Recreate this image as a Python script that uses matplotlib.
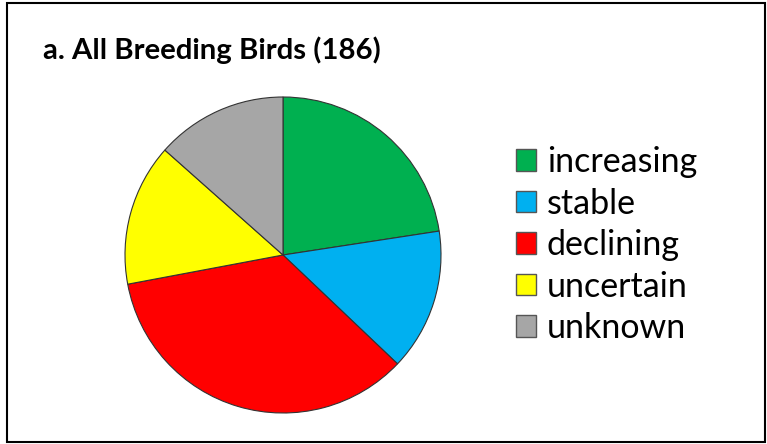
import matplotlib
matplotlib.use("Agg")
import matplotlib.pyplot as plt
from matplotlib.patches import Patch, Rectangle

categories = ["increasing", "stable", "declining", "uncertain", "unknown"]
counts = [42, 27, 65, 27, 25]
colors = ["#00B050", "#00B0F0", "#FF0000", "#FFFF00", "#A6A6A6"]
title = "a. All Breeding Birds (186)"

plt.rcParams['font.family'] = ['Lato', 'DejaVu Sans']

W, H = 767, 444
fig = plt.figure(figsize=(W / 100, H / 100), dpi=100)

# outer frame
fig.patches.append(Rectangle((7 / W, 2 / H), (W - 9) / W, (H - 5) / H,
                             transform=fig.transFigure, fill=False,
                             edgecolor="black", linewidth=1.5))

# pie: centre (283, 255) px, radius 158 px
cx, cy, r = 283, 255, 158
ax = fig.add_axes([(cx - r) / W, (H - cy - r) / H, 2 * r / W, 2 * r / H])
ax.pie(counts, colors=colors, startangle=90, counterclock=False,
       wedgeprops=dict(edgecolor="#333333", linewidth=0.8))
ax.set_xlim(-1, 1)
ax.set_ylim(-1, 1)
ax.set_aspect("equal")
ax.axis("off")

fig.text(43 / W, 1 - 50 / H, title, fontsize=21.2, fontweight="bold",
         va="center", ha="left")

handles = [Patch(facecolor=c, edgecolor="#555555", linewidth=1) for c in colors]
fig.legend(handles, categories, loc="upper left",
           bbox_to_anchor=(499 / W, 1 - 129 / H), frameon=False,
           fontsize=24.5, handlelength=0.6, handleheight=0.6,
           handletextpad=0.3, labelspacing=0.28, borderpad=0)

fig.savefig("out.png", dpi=100)
